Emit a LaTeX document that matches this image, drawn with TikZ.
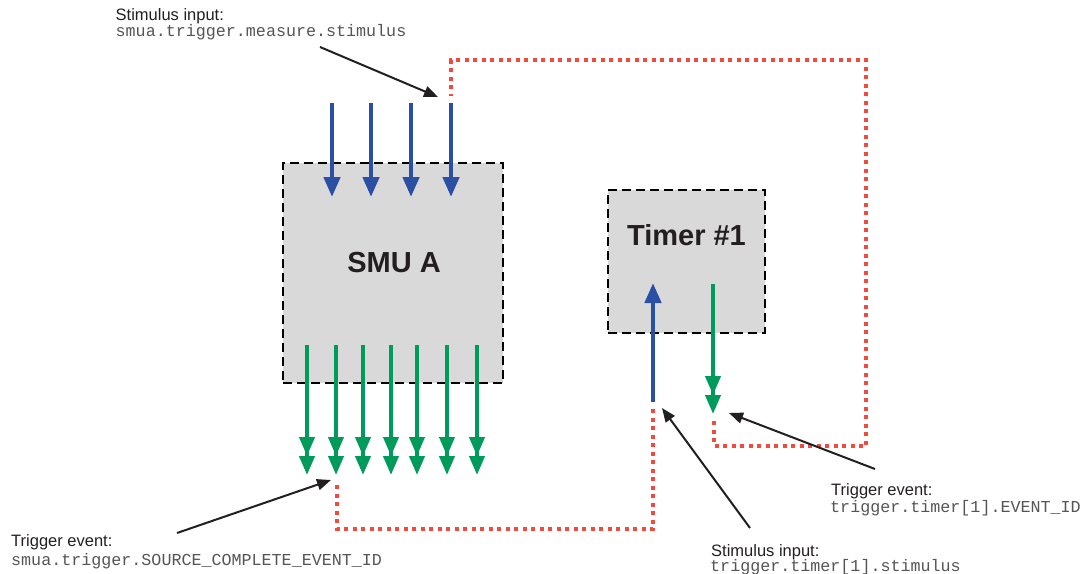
\documentclass[tikz,border=0pt]{standalone}
\usepackage{fontspec}
\setmainfont{Liberation Sans}
\setmonofont{Liberation Mono}
\usetikzlibrary{arrows.meta}
\definecolor{boxgray}{HTML}{D9D9D9}
\definecolor{stimblue}{HTML}{2B50A3}
\definecolor{evgreen}{HTML}{009A5B}
\definecolor{linkred}{HTML}{F04B3E}
\definecolor{codegray}{HTML}{555555}
\definecolor{txtblack}{HTML}{231F20}
\tikzset{
  blockbox/.style={draw=black, fill=boxgray, line width=2pt, dash pattern=on 9pt off 5pt, inner sep=0pt},
  blocklabel/.style={font=\fontsize{29}{32}\selectfont\bfseries, text=txtblack, inner sep=0pt},
  stimarrow/.style={draw=stimblue, line width=4.5pt, -{Triangle[length=20pt,width=16pt]}},
  evarrow/.style={draw=evgreen, line width=4pt, -{Triangle[length=19pt,width=15pt]Triangle[length=19pt,width=15pt]}},
  redlink/.style={draw=linkred, line width=4pt, dash pattern=on 4pt off 4.5pt},
  callout/.style={draw=txtblack, line width=2pt, -{Triangle[length=14pt,width=11pt]}},
  captxt/.style={font=\fontsize{16.5}{19}\selectfont, text=txtblack, inner sep=0pt, anchor=base west},
  codetxt/.style={font=\ttfamily\fontsize{16.7}{19}\selectfont, text=codegray, inner sep=0pt, anchor=base west},
}
\begin{document}
\begin{tikzpicture}[x=1pt,y=-1pt]
\useasboundingbox (0,0) rectangle (1083,573);
% blocks
\node[blockbox, minimum width=220pt, minimum height=220pt] (smu) at (393,273) {};
\node[blocklabel] (smulabel) at (394,262.5) {SMU A};
\node[blockbox, minimum width=157pt, minimum height=143pt] (timer) at (686.5,261.5) {};
\node[blocklabel] (timerlabel) at (686.5,235) {Timer \#1};

% stimulus arrows into SMU
\foreach \i/\x in {1/332,2/371,3/411,4/451}{
  \coordinate (sin\i) at (\x,103);
  \coordinate (sout\i) at (\x,197);
  \draw[stimarrow] (sin\i) -- (sout\i);
}
% event arrows out of SMU
\foreach \i/\x in {1/307,2/336,3/363,4/391,5/417,6/447,7/477}{
  \coordinate (ein\i) at (\x,345);
  \coordinate (eout\i) at (\x,475);
  \draw[evarrow] (ein\i) -- (eout\i);
}
% timer arrows
\coordinate (tsin) at (653,402);
\coordinate (tsout) at (653,283);
\draw[stimarrow] (tsin) -- (tsout);
\coordinate (tein) at (713,284);
\coordinate (teout) at (713,414);
\draw[evarrow] (tein) -- (teout);

% red links
\coordinate (r1a) at (714,421);
\coordinate (r1b) at (451,96);
\draw[redlink] (r1a) |- (866,446) |- (451,60) -- (r1b);
\coordinate (r2a) at (653,409);
\coordinate (r2b) at (337,484);
\draw[redlink] (r2a) |- (337,529) -- (r2b);

% labels
\node[captxt] (l1a) at (115.5,20) {Stimulus input:};
\node[codetxt] (l1b) at (115.5,36.5) {smua.trigger.measure.stimulus};
\node[captxt] (l2a) at (11,546) {Trigger event:};
\node[codetxt] (l2b) at (11,565) {smua.trigger.SOURCE\_COMPLETE\_EVENT\_ID};
\node[captxt] (l3a) at (831,495) {Trigger event:};
\node[codetxt] (l3b) at (830,512.5) {trigger.timer[1].EVENT\_ID};
\node[captxt] (l4a) at (711,556) {Stimulus input:};
\node[codetxt] (l4b) at (710,571) {trigger.timer[1].stimulus};

% callouts
\coordinate (c1s) at (320,47);
\coordinate (c1e) at (438,97);
\draw[callout] (c1s) -- (c1e);
\coordinate (c2s) at (177,533);
\coordinate (c2e) at (331,480);
\draw[callout] (c2s) -- (c2e);
\coordinate (c3s) at (750,528);
\coordinate (c3e) at (662,408);
\draw[callout] (c3s) -- (c3e);
\coordinate (c4s) at (875,469);
\coordinate (c4e) at (729,413);
\draw[callout] (c4s) -- (c4e);
\end{tikzpicture}
\end{document}
